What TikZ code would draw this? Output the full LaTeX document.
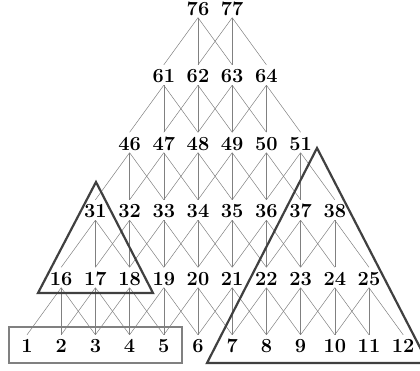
\RequirePackage{fix-cm}
\documentclass[tikz,border=0pt]{standalone}
\usetikzlibrary{fit}
\colorlet{Cedge}{black!50}
\colorlet{Ctri}{black!75}
\colorlet{Cbox}{black!50}
\tikzset{
  num/.style={anchor=base, inner sep=2.5pt, text height=15pt, text depth=0pt,
    font=\fontsize{20}{24}\selectfont\bfseries},
  link/.style={draw=Cedge, line width=0.5pt},
  region/.style={draw=Ctri, line width=2.2pt},
  blockbox/.style={draw=Cbox, line width=2.2pt, inner xsep=10pt, inner ysep=7.5pt},
}
\begin{document}
\begin{tikzpicture}[x=1pt, y=-1pt]
\useasboundingbox (0,0) rectangle (420,370);

%% Numbered rows: row r holds 12-2r entries, first one is 1+15r
\foreach \r in {0,...,5}{
  \pgfmathtruncatemacro{\last}{11-2*\r}
  \foreach \i in {0,...,\last}{
    \pgfmathtruncatemacro{\lab}{1+15*\r+\i}
    \node[num] (n\lab) at ({27+34.2*(\i+\r)}, {352.5-67.5*\r}) {\lab};
  }
}

%% Each entry feeds the three entries below it
\foreach \r in {1,...,5}{
  \pgfmathtruncatemacro{\last}{11-2*\r}
  \foreach \i in {0,...,\last}{
    \pgfmathtruncatemacro{\up}{1+15*\r+\i}
    \foreach \k in {0,1,2}{
      \pgfmathtruncatemacro{\dn}{1+15*(\r-1)+\i+\k}
      \draw[link] (n\up.south) -- (n\dn.north);
    }
  }
}

%% Highlighted regions
\node[blockbox, fit=(n1)(n5)] (base) {};

\coordinate (sTop)   at (96,182);
\coordinate (sLeft)  at (38,293);
\coordinate (sRight) at (153,293);
\draw[region] (sTop) -- (sLeft) -- (sRight) -- cycle;

\coordinate (bTop)   at (317,148);
\coordinate (bLeft)  at (207,363);
\coordinate (bRight) at (428,363);
\draw[region] (bTop) -- (bLeft) -- (bRight) -- cycle;

\end{tikzpicture}
\end{document}
